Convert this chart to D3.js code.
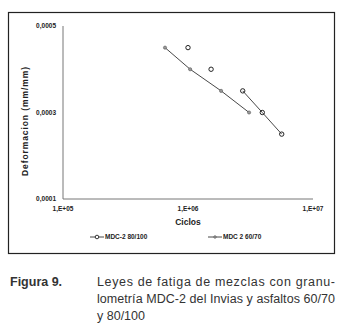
<!DOCTYPE html>
<html>
<head>
<meta charset="utf-8">
<script src="https://cdn.jsdelivr.net/npm/d3@7"></script>
<style>
  body { margin: 0; background: #fff; }
  svg { display: block; }
</style>
</head>
<body>
<div id="chart"></div>
<script>
'use strict';

// data
const cycles6070 = [6.55e5, 1.04e6, 1.84e6, 3.08e6];
const strain6070 = [0.00045, 0.0004, 0.00035, 0.0003];

const cycles80100 = [1.0e6, 1.53e6, 2.74e6, 3.93e6, 5.62e6];
const strain80100 = [0.00045, 0.0004, 0.00035, 0.0003, 0.00025];
const joined80100 = [false, false, true, true, true]; // only last three are joined in the original

const xTicks = [1e5, 1e6, 1e7];
const xTickLabels = ['1,E+05', '1,E+06', '1,E+07'];
const yTicks = [0.0001, 0.0003, 0.0005];
const yTickLabels = ['0,0001', '0,0003', '0,0005'];

const seriesNames = ['MDC-2 80/100', 'MDC 2 60/70'];
const captionLabel = 'Figura 9.';
const captionLines = [
    'Leyes de fatiga de mezclas con granu-',
    'lometría MDC-2 del Invias y asfaltos 60/70',
    'y 80/100'
];

const width = 345, height = 330;
const margin = {top: 26, right: 32, bottom: 131, left: 63};

const svg = d3.select('#chart').append('svg')
    .attr('width', width)
    .attr('height', height);

// frame round the chart
svg.append('rect')
    .attr('x', 8.5).attr('y', 12.5)
    .attr('width', 326).attr('height', 241)
    .attr('fill', 'none')
    .attr('stroke', '#222')
    .attr('stroke-width', 1.2);

const x = d3.scaleLog().domain([1e5, 1e7]).range([margin.left, width - margin.right]);
const y = d3.scaleLinear().domain([0.0001, 0.0005]).range([height - margin.bottom, margin.top]);

const axisFont = 'Liberation Sans, Arial, sans-serif';

// axes
svg.append('line')
    .attr('x1', x(1e5)).attr('x2', x(1e5))
    .attr('y1', y(0.0005)).attr('y2', y(0.0001))
    .attr('stroke', '#777').attr('stroke-width', 1);
svg.append('line')
    .attr('x1', x(1e5)).attr('x2', x(1e7))
    .attr('y1', y(0.0001)).attr('y2', y(0.0001))
    .attr('stroke', '#777').attr('stroke-width', 1);

svg.selectAll('.ylab').data(yTicks).enter()
    .append('text')
    .attr('class', 'ylab')
    .attr('x', 56)
    .attr('y', d => y(d) + 2)
    .attr('text-anchor', 'end')
    .style('font', 'bold 6.5px ' + axisFont)
    .attr('fill', '#222')
    .text((d, i) => yTickLabels[i]);

svg.selectAll('.xlab').data(xTicks).enter()
    .append('text')
    .attr('class', 'xlab')
    .attr('x', d => x(d))
    .attr('y', y(0.0001) + 12)
    .attr('text-anchor', 'middle')
    .style('font', 'bold 6.5px ' + axisFont)
    .attr('fill', '#222')
    .text((d, i) => xTickLabels[i]);

svg.append('text')
    .attr('transform', 'translate(28,122) rotate(-90)')
    .attr('x', -54)
    .attr('textLength', 109)
    .attr('lengthAdjust', 'spacing')
    .style('font', 'bold 8.5px ' + axisFont)
    .attr('fill', '#222')
    .text('Deformacion (mm/mm)');

svg.append('text')
    .attr('x', x(1e6))
    .attr('y', 225)
    .attr('text-anchor', 'middle')
    .style('font', 'bold 8.5px ' + axisFont)
    .attr('fill', '#222')
    .text('Ciclos');

// series
const pts6070 = cycles6070.map((c, i) => ({c: c, s: strain6070[i]}));
const pts80100 = cycles80100.map((c, i) => ({c: c, s: strain80100[i], j: joined80100[i]}));

const line = d3.line().x(d => x(d.c)).y(d => y(d.s));

svg.append('path')
    .attr('d', line(pts6070))
    .attr('fill', 'none')
    .attr('stroke', '#333')
    .attr('stroke-width', 0.9);

svg.append('path')
    .attr('d', line(pts80100.filter(d => d.j)))
    .attr('fill', 'none')
    .attr('stroke', '#333')
    .attr('stroke-width', 0.9);

svg.selectAll('.m6070').data(pts6070).enter()
    .append('circle')
    .attr('class', 'm6070')
    .attr('cx', d => x(d.c)).attr('cy', d => y(d.s))
    .attr('r', 1.6)
    .attr('fill', '#999')
    .attr('stroke', '#555')
    .attr('stroke-width', 0.6);

svg.selectAll('.m80100').data(pts80100).enter()
    .append('circle')
    .attr('class', 'm80100')
    .attr('cx', d => x(d.c)).attr('cy', d => y(d.s))
    .attr('r', 2.2)
    .attr('fill', 'none')
    .attr('stroke', '#222')
    .attr('stroke-width', 1);

// legend
const legendX = [90, 208];
const legend = svg.selectAll('.legend').data(seriesNames).enter()
    .append('g')
    .attr('class', 'legend')
    .attr('transform', (d, i) => 'translate(' + legendX[i] + ',237)');

legend.append('line')
    .attr('x1', 0).attr('x2', 14)
    .attr('stroke', '#333').attr('stroke-width', 0.9);

legend.append('circle')
    .attr('cx', 7).attr('cy', 0)
    .attr('r', (d, i) => i === 0 ? 1.8 : 1.3)
    .attr('fill', (d, i) => i === 0 ? '#fff' : '#999')
    .attr('stroke', (d, i) => i === 0 ? '#222' : '#555')
    .attr('stroke-width', (d, i) => i === 0 ? 0.9 : 0.6);

legend.append('text')
    .attr('x', 15)
    .attr('y', 2.3)
    .style('font', 'bold 6.5px ' + axisFont)
    .attr('fill', '#222')
    .text(d => d);

// caption
const capFont = 'Liberation Sans, Arial, sans-serif';
svg.append('text')
    .attr('x', 10)
    .attr('y', 286)
    .style('font', 'bold 12.5px ' + capFont)
    .attr('fill', '#333')
    .text(captionLabel);

svg.selectAll('.cap').data(captionLines).enter()
    .append('text')
    .attr('class', 'cap')
    .attr('x', 97)
    .attr('y', (d, i) => 286 + i * 17)
    .attr('textLength', (d, i) => i < 2 ? 238 : null)
    .attr('lengthAdjust', 'spacing')
    .style('font', '12.5px ' + capFont)
    .attr('fill', '#333')
    .text(d => d);
</script>
</body>
</html>
